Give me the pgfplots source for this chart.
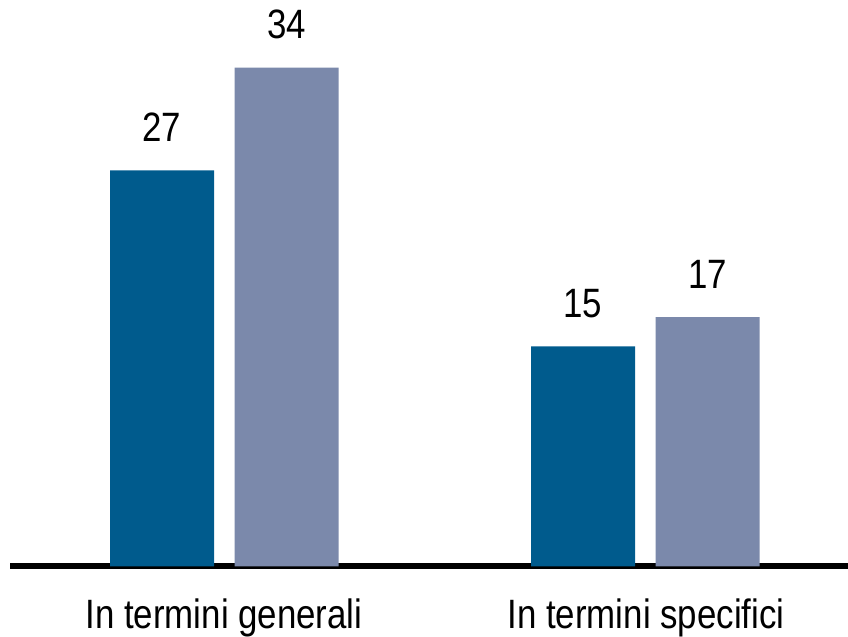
\documentclass[border=0pt]{standalone}
\usepackage{pgfplots}
\pgfplotsset{compat=1.18}
\usepackage{fontspec}
\setmainfont{Liberation Sans}[FakeStretch=0.85]
\definecolor{darkblue}{RGB}{0,91,141}
\definecolor{grayblue}{RGB}{123,137,171}
\begin{document}
\begin{tikzpicture}
\path[use as bounding box] (-5pt,-35.25pt) rectangle (419pt,283.25pt);
\begin{axis}[
  at={(0,0)}, anchor=south west,
  x=0.5pt, y=7.335pt,
  xmin=0, xmax=838, ymin=0, ymax=38,
  enlargelimits=false,
  clip=false,
  axis y line=none,
  axis x line=bottom,
  axis line style={-, line width=3pt, black},
  ytick=\empty,
  xtick={214,636},
  xticklabels={In termini generali, In termini specifici},
  major tick length=0pt,
  xticklabel style={anchor=base, yshift=-30.9pt, font=\fontsize{20.5}{24}\selectfont, inner sep=0pt},
  ybar, bar width=52pt,
  /pgf/number format/assume math mode=true,
  nodes near coords,
  every node near coord/.style={anchor=base, yshift=14.5pt, font=\fontsize{20.5}{24}\selectfont, inner sep=0pt, black},
]
\addplot[fill=darkblue, draw=none, bar shift=0pt] coordinates {(152,27) (573,15)};
\addplot[fill=grayblue, draw=none, bar shift=0pt] coordinates {(276.5,34) (697.5,17)};
\end{axis}
\end{tikzpicture}
\end{document}
